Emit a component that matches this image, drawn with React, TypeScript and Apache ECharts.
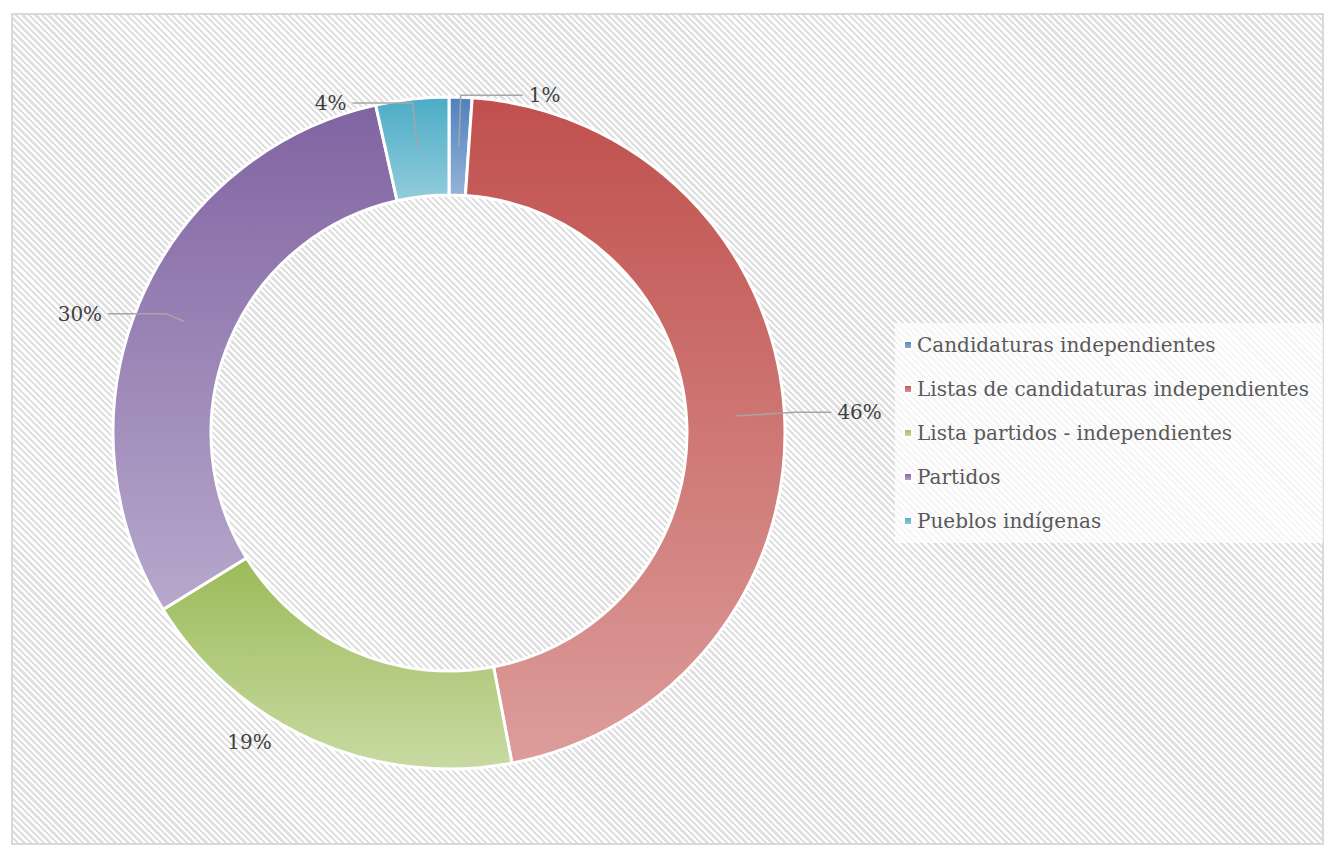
import React, { useEffect, useRef } from "react";
import * as echarts from "echarts";

const categories = [
  "Candidaturas independientes",
  "Listas de candidaturas independientes",
  "Lista partidos - independientes",
  "Partidos",
  "Pueblos indígenas",
];
const values = [1.1, 45.9, 19.2, 30.3, 3.5];
const topColors = ["#4F81BD", "#C0504D", "#9BBB59", "#8064A2", "#4BACC6"];
const bottomColors = ["#95B3D7", "#DC9D9B", "#C8DAA2", "#B7A8CC", "#92CDDC"];

// label-line styling per category (first radial segment, horizontal segment)
const lineStyleByName: Record<string, { length: number; length2: number; show: boolean }> = {
  "Candidaturas independientes": { length: 51, length2: 62, show: true },
  "Listas de candidaturas independientes": { length: 60, length2: 36, show: true },
  "Lista partidos - independientes": { length: 51, length2: 35, show: false },
  "Partidos": { length: 20, length2: 58, show: true },
  "Pueblos indígenas": { length: 45, length2: 60, show: true },
};

const FONT = "'DejaVu Serif', serif";

export default function App() {
  const ref = useRef<HTMLDivElement>(null);
  useEffect(() => {
    if (!ref.current) return;
    const chart = echarts.init(ref.current, undefined, { renderer: "svg" });
    const ringData = categories.map((name, i) => ({
      name,
      value: values[i],
      itemStyle: {
        color: new echarts.graphic.LinearGradient(0, 0, 0, 1, [
          { offset: 0, color: topColors[i] },
          { offset: 1, color: bottomColors[i] },
        ]),
      },
    }));
    const labelData = categories.map((name, i) => ({
      name,
      value: values[i],
      labelLine: lineStyleByName[name],
    }));
    chart.setOption({
      animation: false,
      legend: {
        orient: "vertical",
        left: 895,
        top: 323,
        padding: [12, 14, 12, 8],
        backgroundColor: "rgba(255,255,255,0.7)",
        itemWidth: 8,
        itemHeight: 8,
        itemGap: 24,
        icon: "rect",
        data: categories,
        textStyle: { color: "#595959", fontSize: 20, fontFamily: FONT },
      },
      series: [
        {
          type: "pie",
          z: 2,
          center: [449, 433],
          radius: [238, 336],
          startAngle: 90,
          clockwise: true,
          avoidLabelOverlap: false,
          silent: true,
          label: { show: false },
          labelLine: { show: false },
          itemStyle: { borderColor: "#ffffff", borderWidth: 3 },
          data: ringData,
        },
        {
          type: "pie",
          z: 5,
          zlevel: 0,
          center: [449, 433],
          radius: [0, 287],
          startAngle: 90,
          clockwise: true,
          avoidLabelOverlap: false,
          silent: true,
          itemStyle: { color: "rgba(0,0,0,0)" },
          label: {
            show: true,
            position: "outside",
            color: "#404040",
            fontSize: 20,
            fontFamily: FONT,
            distanceToLabelLine: 6,
            formatter: (p: any) => Math.round(p.percent) + "%",
          },
          labelLine: {
            show: true,
            smooth: false,
            lineStyle: { color: "#A6A6A6", width: 1.5 },
          },
          data: labelData,
        },
      ],
    });
    return () => chart.dispose();
  }, []);

  return (
    <div style={{ position: "absolute", left: 0, top: 0, width: 1327, height: 845, background: "#ffffff" }}>
      <div
        style={{
          position: "absolute",
          left: 11,
          top: 13,
          width: 1309,
          height: 828,
          border: "2px solid #d9d9d9",
          backgroundImage:
            "repeating-linear-gradient(45deg, #ffffff 0px, #ffffff 2.3px, #e0e0e0 2.3px, #e0e0e0 4.6px)",
        }}
      />
      <div ref={ref} style={{ position: "absolute", left: 0, top: 0, width: 1327, height: 845 }} />
    </div>
  );
}
